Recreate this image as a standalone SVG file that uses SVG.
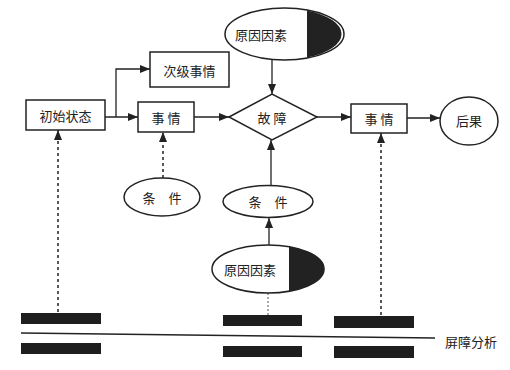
<svg xmlns="http://www.w3.org/2000/svg" width="510" height="370" viewBox="0 0 510 370">
<style>
.box{fill:#fff;stroke:#222;stroke-width:1.5}
.ln{fill:none;stroke:#222;stroke-width:1.3}
.dash{fill:none;stroke:#222;stroke-width:1.5;stroke-dasharray:3 3}
.dot{fill:none;stroke:#555;stroke-width:1;stroke-dasharray:2 2}
.bar{fill:#1e1e1e}
.dark{fill:#222}
text{font-family:"Noto Sans CJK SC","Noto Sans CJK JP",sans-serif;font-size:13px;fill:#222;text-anchor:middle;dominant-baseline:central}
</style>
<defs>
<marker id="ah" viewBox="0 0 10 10" refX="10" refY="5" markerWidth="10" markerHeight="10" markerUnits="userSpaceOnUse" orient="auto">
<path d="M0,1 L10,5 L0,9 Z" fill="#222"/>
</marker>
</defs>
<g id="connectors">
<path class="ln" d="M105,117 H138" marker-end="url(#ah)"/>
<path class="ln" d="M116,117 V69 H150" marker-end="url(#ah)"/>
<path class="ln" d="M194,117 H229" marker-end="url(#ah)"/>
<path class="ln" d="M272,60 V94" marker-end="url(#ah)"/>
<path class="ln" d="M271,186 V140" marker-end="url(#ah)"/>
<path class="ln" d="M269,245 V218" marker-end="url(#ah)"/>
<path class="ln" d="M317,117 H351" marker-end="url(#ah)"/>
<path class="ln" d="M407,118 H440" marker-end="url(#ah)"/>
<path class="dash" d="M58,312 V130" marker-end="url(#ah)"/>
<path class="dash" d="M163,178 V132" marker-end="url(#ah)"/>
<path class="dash" d="M381,315 V133" marker-end="url(#ah)"/>
<path class="dot" d="M268,293 V315"/>
<path class="ln" d="M21,333 L435,338"/>
</g>
<g id="n_init"><rect class="box" x="26" y="100" width="79" height="30"/><text x="65.5" y="115">初始状态</text></g>
<g id="n_secondary"><rect class="box" x="150" y="52" width="79" height="35"/><text x="189.5" y="70">次级事情</text></g>
<g id="n_event1"><rect class="box" x="138" y="102" width="56" height="30"/><text x="166" y="117">事 情</text></g>
<g id="n_cond1"><ellipse class="box" cx="162" cy="197" rx="38" ry="19"/><text x="162" y="197">条　件</text></g>
<g id="n_cause_top">
<ellipse class="box" cx="284.5" cy="34" rx="59.5" ry="26"/>
<path class="dark" d="M307,10.4 A59.5,26 0 0 1 307,57.6 Z"/>
<text x="261" y="34">原因因素</text>
</g>
<g id="n_fault"><path class="box" d="M229,117 L272,94 L317,117 L272,140 Z"/><text x="272" y="117">故 障</text></g>
<g id="n_cond2"><ellipse class="box" cx="268" cy="201.5" rx="45" ry="16"/><text x="268" y="201.5">条　件</text></g>
<g id="n_cause_bot">
<ellipse class="box" cx="268" cy="269" rx="56" ry="24"/>
<path class="dark" d="M289,246.7 A56,24 0 0 1 289,291.3 Z"/>
<text x="250" y="269">原因因素</text>
</g>
<g id="n_event2"><rect class="box" x="351" y="104" width="56" height="29"/><text x="379" y="118">事 情</text></g>
<g id="n_result"><ellipse class="box" cx="469" cy="121" rx="29" ry="24"/><text x="469" y="120">后果</text></g>
<g id="bars">
<rect class="bar" x="21" y="313" width="80" height="11"/>
<rect class="bar" x="21" y="343" width="80" height="11"/>
<rect class="bar" x="223" y="315" width="79" height="11"/>
<rect class="bar" x="223" y="346" width="79" height="11"/>
<rect class="bar" x="334" y="316" width="80" height="12"/>
<rect class="bar" x="334" y="346" width="80" height="12"/>
</g>
<text x="471" y="341">屏障分析</text>
</svg>
